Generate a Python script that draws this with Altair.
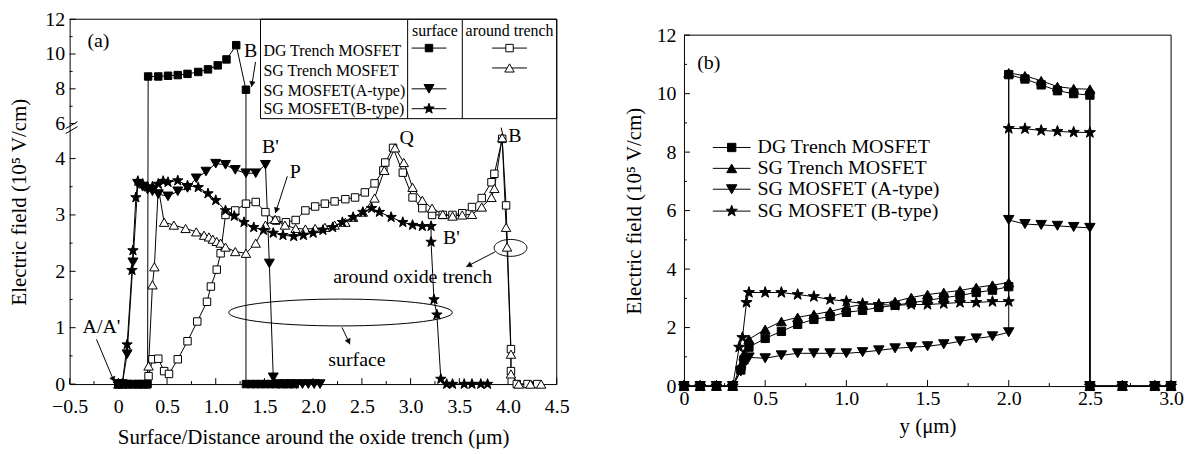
import altair as alt
import numpy as np
import pandas as pd

FONT = "Liberation Serif"

# ================= Panel (a) data =================
a_dg_surf_x = [0, 0.05, 0.1, 0.15, 0.2, 0.25, 0.3, 0.306, 0.41, 0.51, 0.61, 0.71, 0.82, 0.92, 1.02, 1.11,
               1.21, 1.31, 1.31, 1.36, 1.41, 1.46, 1.51, 1.56, 1.61, 1.66, 1.71, 1.76, 1.81]
a_dg_surf_y = [0, 0, 0, 0, 0, 0, 0, 8.71, 8.71, 8.75, 8.79, 8.86, 8.97, 9.12, 9.35, 9.69,
               10.51, 7.95, 0, 0, 0, 0, 0, 0, 0, 0, 0, 0, 0]

a_atype_x = [0, 0.04, 0.09, 0.15, 0.2, 0.25, 0.3, 0.35, 0.41, 0.51, 0.61, 0.71, 0.8, 0.9, 1.0,
             1.1, 1.2, 1.31, 1.41, 1.51, 1.55, 1.59, 1.65, 1.71, 1.77, 1.83, 1.89, 1.95, 2.01, 2.07]
a_atype_y = [0, 0, 0.53, 2.16, 3.55, 3.5, 3.45, 3.42, 3.37, 3.33, 3.42, 3.48, 3.65, 3.77, 3.91,
             3.89, 3.8, 3.74, 3.74, 3.89, 2.14, 0.12, 0, 0, 0, 0, 0, 0, 0, 0]

a_btype_x = [0, 0.04, 0.09, 0.14, 0.15, 0.18, 0.2, 0.25, 0.3, 0.35, 0.41, 0.46, 0.51, 0.61, 0.71,
             0.82, 0.92, 1.0, 1.1, 1.19, 1.29, 1.39, 1.49, 1.59, 1.69, 1.8, 1.9, 2.0, 2.1, 2.2,
             2.3, 2.41, 2.51, 2.6, 2.68, 2.8, 2.92, 3.02, 3.12, 3.21, 3.21, 3.24, 3.27, 3.31, 3.37,
             3.43, 3.55, 3.63, 3.72, 3.79]
a_btype_y = [0, 0, 0.70, 2.02, 2.37, 3.31, 3.6, 3.55, 3.5, 3.5, 3.55, 3.6, 3.58, 3.61, 3.52,
             3.49, 3.38, 3.26, 3.08, 2.98, 2.87, 2.78, 2.73, 2.68, 2.64, 2.62, 2.64, 2.68, 2.73, 2.78,
             2.87, 2.96, 3.05, 3.12, 3.05, 2.96, 2.87, 2.82, 2.8, 2.8, 2.52, 1.5, 1.23, 0.09, 0,
             0, 0, 0, 0, 0]

a_dg_tr_x = [0, 0.1, 0.2, 0.28, 0.31, 0.35, 0.41, 0.47, 0.52, 0.61, 0.71, 0.81, 0.91, 0.95, 1.01,
             1.05, 1.1, 1.2, 1.31, 1.41, 1.51, 1.62, 1.72, 1.82, 1.92, 2.02, 2.12, 2.22, 2.33, 2.43,
             2.53, 2.63, 2.72, 2.74, 2.82, 2.92, 3.02, 3.12, 3.22, 3.33, 3.43, 3.53, 3.63, 3.73, 3.83,
             3.86, 3.94, 3.98, 4.03, 4.03, 4.09, 4.2, 4.3]
a_dg_tr_y = [0, 0, 0, 0, 0.14, 0.44, 0.45, 0.23, 0.18, 0.44, 0.76, 1.11, 1.46, 1.73, 2.03,
             2.32, 3.0, 3.08, 3.2, 3.23, 3.05, 2.9, 2.87, 2.91, 3.08, 3.15, 3.2, 3.24, 3.28, 3.31,
             3.4, 3.56, 3.79, 3.93, 4.19, 3.75, 3.31, 3.12, 3.0, 3.0, 3.0, 3.03, 3.14, 3.3, 3.58,
             3.73, 4.35, 3.17, 0.62, 0.23, 0, 0, 0]

a_sg_tr_x = [0, 0.1, 0.2, 0.28, 0.31, 0.35, 0.37, 0.41, 0.47, 0.57, 0.69, 0.8, 0.88, 0.93, 0.97,
             1.01, 1.05, 1.1, 1.2, 1.31, 1.41, 1.51, 1.61, 1.71, 1.82, 1.92, 2.02, 2.12, 2.22, 2.33,
             2.41, 2.51, 2.63, 2.73, 2.84, 2.93, 3.02, 3.12, 3.22, 3.33, 3.43, 3.53, 3.63, 3.73, 3.83,
             3.86, 3.94, 3.98, 3.99, 4.03, 4.03, 4.11, 4.23, 4.34]
a_sg_tr_y = [0, 0, 0, 0, 0.32, 1.76, 2.08, 3.49, 2.87, 2.82, 2.76, 2.7, 2.64, 2.61, 2.57,
             2.53, 2.5, 2.43, 2.35, 2.32, 2.5, 2.82, 2.92, 2.82, 2.76, 2.75, 2.76, 2.78, 2.82, 2.87,
             2.96, 3.05, 3.3, 3.79, 4.19, 3.93, 3.49, 3.26, 3.12, 3.01, 2.98, 3.0, 3.01, 3.14, 3.31,
             3.47, 4.37, 2.78, 2.43, 0.53, 0.18, 0, 0, 0]

# ================= Panel (b) data =================
b_x = [0, 0.1, 0.2, 0.3, 0.35, 0.37, 0.4, 0.5, 0.6, 0.7, 0.8, 0.9, 1.0, 1.1, 1.2, 1.3, 1.4,
       1.5, 1.6, 1.7, 1.8, 1.9, 2.0, 2.0, 2.1, 2.2, 2.3, 2.4, 2.5, 2.5, 2.7, 2.9, 3.0]
b_dg = [0, 0, 0, 0, 0.55, 0.9, 1.33, 1.63, 1.87, 2.11, 2.28, 2.38, 2.52, 2.59, 2.69, 2.76, 2.85,
        2.93, 3.02, 3.1, 3.2, 3.28, 3.4, 10.65, 10.5, 10.3, 10.1, 10.0, 9.95, 0, 0, 0, 0]
b_sg = [0, 0, 0, 0, 0.7, 1.1, 1.6, 1.94, 2.21, 2.35, 2.45, 2.55, 2.69, 2.79, 2.82, 2.89, 3.03,
        3.13, 3.2, 3.27, 3.37, 3.45, 3.54, 10.71, 10.61, 10.44, 10.24, 10.17, 10.15, 0, 0, 0, 0]
b_atype = [0, 0, 0, 0, 0.5, 0.75, 0.98, 0.95, 1.05, 1.12, 1.12, 1.12, 1.12, 1.16, 1.22, 1.29, 1.33,
           1.36, 1.43, 1.53, 1.63, 1.7, 1.84, 5.68, 5.54, 5.51, 5.48, 5.44, 5.41, 0, 0, 0, 0]
b_btype_x = [0, 0.1, 0.2, 0.3, 0.34, 0.36, 0.385, 0.4, 0.5, 0.6, 0.7, 0.8, 0.9, 1.0, 1.1, 1.2,
             1.3, 1.4, 1.5, 1.6, 1.7, 1.8, 1.9, 2.0, 2.0, 2.1, 2.2, 2.3, 2.4, 2.5, 2.5, 2.7, 2.9, 3.0]
b_btype = [0, 0, 0, 0, 1.33, 1.66, 2.86, 3.2, 3.2, 3.2, 3.13, 3.06, 2.96, 2.9, 2.82, 2.79,
           2.76, 2.79, 2.79, 2.82, 2.86, 2.86, 2.89, 2.89, 8.81, 8.8, 8.74, 8.71, 8.68, 8.67, 0, 0, 0, 0]

# ================= tick / label values =================
a_x_major = [-0.5, 0, 0.5, 1.0, 1.5, 2.0, 2.5, 3.0, 3.5, 4.0, 4.5]
a_x_minor = [-0.25, 0.25, 0.75, 1.25, 1.75, 2.25, 2.75, 3.25, 3.75, 4.25]
a_y_major = [0, 1, 2, 3, 4, 6, 8, 10, 12]
a_y_minor = [0.5, 1.5, 2.5, 3.5, 7, 9, 11]
b_x_major = [0, 0.5, 1.0, 1.5, 2.0, 2.5, 3.0]
b_x_minor = [0.25, 0.75, 1.25, 1.75, 2.25, 2.75]
b_y_major = [0, 2, 4, 6, 8, 10, 12]
b_y_minor = [1, 3, 5, 7, 9, 11]

a_table_rows = ["DG Trench MOSFET", "SG Trench MOSFET", "SG MOSFET(A-type)", "SG MOSFET(B-type)"]
a_table_headers = ["surface", "around trench"]
b_legend = ["DG Trench MOSFET", "SG Trench MOSFET", "SG MOSFET (A-type)", "SG MOSFET (B-type)"]

# ================= styles =================
STAR = ("M0,-1L0.235,-0.324L0.951,-0.309L0.38,0.124L0.588,0.809L0,0.4L-0.588,0.809"
        "L-0.38,0.124L-0.951,-0.309L-0.235,-0.324Z")


def ellipse_path(ry, n=60):
    t = np.linspace(0, 2 * np.pi, n, endpoint=False)
    pts = ["%s%.4f,%.4f" % ("M" if i == 0 else "L", np.cos(a), ry * np.sin(a)) for i, a in enumerate(t)]
    return "".join(pts) + "Z"


WA, HA = 490, 367
WB, HB = 490, 369      # panel b plot area incl. an empty strip at the top
BTOP = 16              # panel b frame starts this far below panel a's top
YBREAK = 105           # pixel (from plot top) of the axis break in panel a
DY = -18               # image-y to panel-a plot-y offset for annotations

xa = alt.Scale(domain=[-0.5, 4.5], nice=False, zero=False)
ya = alt.Scale(domain=[0, 4.62, 6, 12], range=[HA, YBREAK, YBREAK, 0], nice=False, zero=False)
xb = alt.Scale(domain=[0, 3.0], nice=False, zero=False)
yb = alt.Scale(domain=[0, 12], range=[HB, BTOP], nice=False, zero=False)

LBL = "datum.value == 0 ? '0' : format(datum.value, '.1f')"

ax_xa = alt.Axis(values=a_x_major, labelExpr=LBL, ticks=False, grid=False, labelPadding=13,
                 labelFlush=False, titlePadding=10, title="Surface/Distance around the oxide trench (μm)")
ax_ya = alt.Axis(values=a_y_major, ticks=False, grid=False, labelPadding=5, labelFlush=False,
                 titlePadding=15, title="Electric field (10⁵ V/cm)")
ax_xb = alt.Axis(values=b_x_major, labelExpr=LBL, ticks=False, grid=False, labelPadding=3,
                 labelFlush=False, titlePadding=7, title="y (μm)")
ax_yb = alt.Axis(values=b_y_major, ticks=False, grid=False, labelPadding=8, labelFlush=False,
                 titlePadding=12, title="Electric field (10⁵ V/cm)")


def series_df(entries):
    frames = []
    for name, xs, ys in entries:
        frames.append(pd.DataFrame({"x": xs, "y": ys, "series": name, "idx": np.arange(len(xs))}))
    return pd.concat(frames, ignore_index=True)


def tick_layers(xmaj, xmin, ymaj, ymin, xs, ys, axx, axy, H):
    out = []
    for vals, L in ((xmaj, 6), (xmin, 3)):
        out.append(alt.Chart(pd.DataFrame({"x": vals})).mark_rule(color="black", strokeWidth=1).encode(
            x=alt.X("x:Q", scale=xs, axis=axx), y=alt.value(H), y2=alt.value(H - L)))
    for vals, L in ((ymaj, 6), (ymin, 3)):
        out.append(alt.Chart(pd.DataFrame({"y": vals})).mark_rule(color="black", strokeWidth=1).encode(
            y=alt.Y("y:Q", scale=ys, axis=axy), x=alt.value(0), x2=alt.value(L)))
    return out


def point_layer(df, name, shape, fill, size, xs, ys, axx, axy):
    return alt.Chart(df).transform_filter(alt.datum.series == name).mark_point(
        shape=shape, size=size, filled=True, fill=fill, stroke="black", strokeWidth=1, opacity=1
    ).encode(x=alt.X("x:Q", scale=xs, axis=axx), y=alt.Y("y:Q", scale=ys, axis=axy))


def px_text(df, size, align="center"):
    return alt.Chart(df).mark_text(font=FONT, fontSize=size, color="black", align=align, baseline="middle").encode(
        x=alt.X("px:Q", scale=None), y=alt.Y("py:Q", scale=None), text="t:N")


def px_segments(df):
    return alt.Chart(df).mark_rule(color="black", strokeWidth=1).encode(
        x=alt.X("x1:Q", scale=None), x2="x2:Q", y=alt.Y("y1:Q", scale=None), y2="y2:Q")


def arrow_heads(df):
    d = df.copy()
    dx, dy = d.x2 - d.x1, d.y2 - d.y1
    n = np.hypot(dx, dy)
    d["ang"] = (np.degrees(np.arctan2(dx, -dy)) + 360) % 360
    d["hx"] = d.x2 - dx / n * 3
    d["hy"] = d.y2 - dy / n * 3
    return alt.Chart(d).mark_point(shape="triangle-up", size=30, filled=True, fill="black",
                                   stroke="black", strokeWidth=0.5, opacity=1).encode(
        x=alt.X("hx:Q", scale=None), y=alt.Y("hy:Q", scale=None), angle=alt.Angle("ang:Q", scale=None))


def px_symbols(df):
    return alt.Chart(df).mark_point(filled=True, stroke="black", strokeWidth=1, opacity=1).encode(
        x=alt.X("px:Q", scale=None), y=alt.Y("py:Q", scale=None),
        shape=alt.Shape("shape:N", scale=None), fill=alt.Fill("fill:N", scale=None),
        size=alt.Size("sz:Q", scale=None))


def frame(top, W, H):
    # top and right border of a plot frame (left/bottom are the axis lines)
    return px_segments(pd.DataFrame({"x1": [0, W], "x2": [W, W], "y1": [top, top], "y2": [top, H]}))


# ================= Panel (a) =================
dfa = series_df([
    ("dg_s", a_dg_surf_x, a_dg_surf_y),
    ("a_s", a_atype_x, a_atype_y),
    ("b_s", a_btype_x, a_btype_y),
    ("dg_t", a_dg_tr_x, a_dg_tr_y),
    ("sg_t", a_sg_tr_x, a_sg_tr_y),
])

line_a = alt.Chart(dfa).mark_line(color="black", strokeWidth=1).encode(
    x=alt.X("x:Q", scale=xa, axis=ax_xa), y=alt.Y("y:Q", scale=ya, axis=ax_ya),
    detail="series:N", order="idx:Q")

pts_a = [
    point_layer(dfa, "dg_t", "square", "white", 56, xa, ya, ax_xa, ax_ya),
    point_layer(dfa, "sg_t", "triangle-up", "white", 90, xa, ya, ax_xa, ax_ya),
    point_layer(dfa, "b_s", STAR, "black", 120, xa, ya, ax_xa, ax_ya),
    point_layer(dfa, "a_s", "triangle-down", "black", 100, xa, ya, ax_xa, ax_ya),
    point_layer(dfa, "dg_s", "square", "black", 56, xa, ya, ax_xa, ax_ya),
]

# legend table (pixel positions inside the plot area)
one = pd.DataFrame({"k": [0]})
tbl_box = alt.Chart(one).mark_rect(fill="white", stroke="black", strokeWidth=1).encode(
    x=alt.value(192), x2=alt.value(490), y=alt.value(0), y2=alt.value(100))
tbl_div = px_segments(pd.DataFrame({"x1": [340, 395], "x2": [340, 395], "y1": [0, 0], "y2": [100, 100]}))
tbl_head = px_text(pd.DataFrame({"t": a_table_headers, "px": [367.5, 442.5], "py": [12, 12]}), 16)
tbl_rows = px_text(pd.DataFrame({"t": a_table_rows, "px": [195] * 4, "py": [32, 52, 72, 90]}), 16, "left")
tbl_lines = px_segments(pd.DataFrame({"x1": [344, 344, 344, 425, 425], "x2": [379, 379, 379, 460, 460],
                                      "y1": [29, 70, 90, 29, 49], "y2": [29, 70, 90, 29, 49]}))
tbl_syms = px_symbols(pd.DataFrame({
    "px": [361.5, 361.5, 361.5, 442.5, 442.5], "py": [29, 70, 90, 29, 49],
    "shape": ["square", "triangle-down", STAR, "square", "triangle-up"],
    "fill": ["black", "black", "black", "white", "white"],
    "sz": [56, 100, 120, 56, 90]}))

# annotations (given in image pixels relative to panel a's left edge and the picture top)
ann_df = pd.DataFrame({
    "t": ["(a)", "B", "B'", "P", "Q", "B", "B'", "around oxide trench", "surface", "A/A'"],
    "px": [29, 182, 202, 227, 339, 448, 384, 345, 289, 32],
    "py": [40, 50, 147, 172, 137, 135, 238, 277, 361, 328]})
ann_df["py"] = ann_df["py"] + DY
ann_a = px_text(ann_df, 20)
arr_a = pd.DataFrame({"x1": [187, 219, 27, 428, 274], "y1": [61, 176, 340, 252, 328],
                      "x2": [183, 207, 45, 399, 282], "y2": [86, 213, 383, 267, 345]})
arr_a[["y1", "y2"]] = arr_a[["y1", "y2"]] + DY
arr_lines_a = px_segments(arr_a)
arr_heads_a = arrow_heads(arr_a)
misc_df = pd.DataFrame({"x1": [-4, -4, 434], "x2": [8, 8, 436],
                        "y1": [128, 133, 127], "y2": [121, 126, 135]})
misc_df[["y1", "y2"]] = misc_df[["y1", "y2"]] + DY
misc_a = px_segments(misc_df)
ell_a = alt.Chart(pd.DataFrame({"px": [272.5, 443.5], "py": [313 + DY, 248 + DY],
                                "shape": [ellipse_path(0.12), ellipse_path(0.515)],
                                "sz": [225 ** 2, 33 ** 2]})).mark_point(
    filled=False, stroke="black", strokeWidth=1, opacity=1).encode(
    x=alt.X("px:Q", scale=None), y=alt.Y("py:Q", scale=None),
    shape=alt.Shape("shape:N", scale=None), size=alt.Size("sz:Q", scale=None))

panel_a = alt.layer(
    line_a, *tick_layers(a_x_major, a_x_minor, a_y_major, a_y_minor, xa, ya, ax_xa, ax_ya, HA), *pts_a,
    tbl_box, tbl_div, tbl_head, tbl_rows, tbl_lines, tbl_syms,
    ann_a, arr_lines_a, arr_heads_a, misc_a, ell_a, frame(0, WA, HA),
).properties(width=WA, height=HA)

# ================= Panel (b) =================
dfb = series_df([
    ("dg", b_x, b_dg),
    ("sg", b_x, b_sg),
    ("a", b_x, b_atype),
    ("b", b_btype_x, b_btype),
])

line_b = alt.Chart(dfb).mark_line(color="black", strokeWidth=1).encode(
    x=alt.X("x:Q", scale=xb, axis=ax_xb), y=alt.Y("y:Q", scale=yb, axis=ax_yb),
    detail="series:N", order="idx:Q")

pts_b = [
    point_layer(dfb, "a", "triangle-down", "black", 110, xb, yb, ax_xb, ax_yb),
    point_layer(dfb, "b", STAR, "black", 140, xb, yb, ax_xb, ax_yb),
    point_layer(dfb, "dg", "square", "black", 70, xb, yb, ax_xb, ax_yb),
    point_layer(dfb, "sg", "triangle-up", "black", 100, xb, yb, ax_xb, ax_yb),
]

leg_rows = [BTOP + r for r in (113, 134, 155, 177)]
leg_b_lines = px_segments(pd.DataFrame({"x1": [29] * 4, "x2": [67] * 4, "y1": leg_rows, "y2": leg_rows}))
leg_b_syms = px_symbols(pd.DataFrame({
    "px": [48] * 4, "py": leg_rows,
    "shape": ["square", "triangle-up", "triangle-down", STAR],
    "fill": ["black"] * 4, "sz": [70, 100, 110, 140]}))
leg_b_text = px_text(pd.DataFrame({"t": b_legend, "px": [74] * 4, "py": leg_rows}), 20, "left")
ann_b = px_text(pd.DataFrame({"t": ["(b)"], "px": [25], "py": [BTOP + 28]}), 20)

panel_b = alt.layer(
    line_b, *tick_layers(b_x_major, b_x_minor, b_y_major, b_y_minor, xb, yb, ax_xb, ax_yb, HB), *pts_b,
    leg_b_lines, leg_b_syms, leg_b_text, ann_b, frame(BTOP, WB, HB),
).properties(width=WB, height=HB)

chart = alt.hconcat(panel_a, panel_b, spacing=54).properties(
    padding={"left": 1, "top": 0, "right": 2, "bottom": 0}
).configure_view(strokeOpacity=0).configure_axis(
    labelFont=FONT, titleFont=FONT, labelFontSize=20, titleFontSize=21, labelColor="black",
    titleColor="black", titleFontWeight="normal", domainColor="black", domainWidth=1, grid=False
)

chart.save("out.html", embed_options={"renderer": "svg", "actions": False})
